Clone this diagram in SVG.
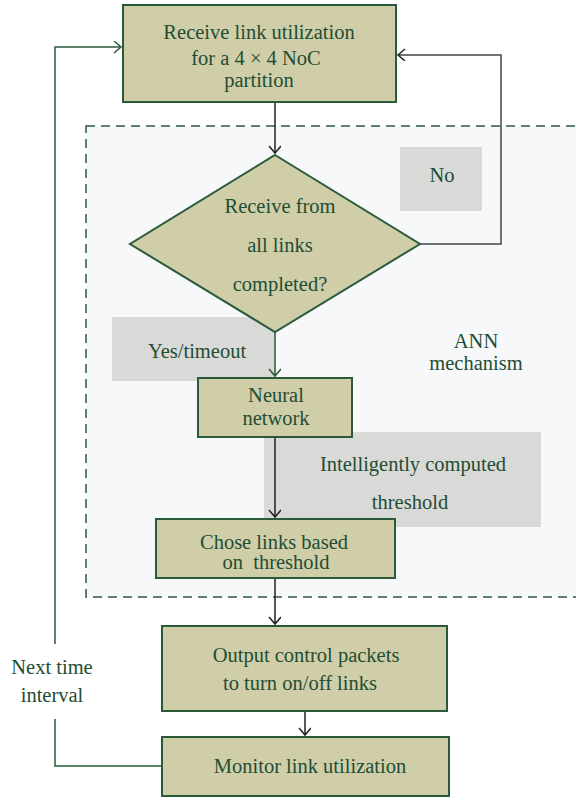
<svg xmlns="http://www.w3.org/2000/svg" width="576" height="798" viewBox="0 0 576 798">
<defs>
<style>
.box{fill:#cfcea9;stroke:#2b5a3b;stroke-width:2}
.lab{fill:#d9d9d7}
.t{font-family:"Liberation Serif",serif;font-size:20.5px;fill:#1f4d33;text-anchor:middle}
.c{fill:none;stroke:#222;stroke-width:1.5}
.g{stroke:#2b5a3b}
</style>
<marker id="ah" markerUnits="userSpaceOnUse" markerWidth="14" markerHeight="14" refX="8" refY="6" orient="auto">
<path d="M1,0 L8,6 L1,12" fill="none" stroke="#222" stroke-width="1.5"/>
</marker>
<marker id="ahg" markerUnits="userSpaceOnUse" markerWidth="14" markerHeight="14" refX="8" refY="6" orient="auto">
<path d="M1,0 L8,6 L1,12" fill="none" stroke="#2b5a3b" stroke-width="1.5"/>
</marker>
</defs>
<rect width="576" height="798" fill="#fff"/>
<g id="ann-region">
<rect x="86" y="126" width="500" height="471" fill="#f6f8fa" stroke="#2b5a3b" stroke-width="1.5" stroke-dasharray="9,6"/>
<text class="t" x="476" y="348">ANN</text>
<text class="t" x="476" y="370">mechanism</text>
</g>
<g id="label-no">
<rect class="lab" x="400" y="147" width="82" height="64"/>
<text class="t" x="442" y="182">No</text>
</g>
<g id="label-yes">
<rect class="lab" x="112" y="317" width="164" height="64"/>
<text class="t" x="197" y="358">Yes/timeout</text>
</g>
<g id="label-threshold">
<rect class="lab" x="264" y="432" width="277" height="95"/>
<text class="t" x="413" y="471">Intelligently computed</text>
<text class="t" x="410" y="509">threshold</text>
</g>
<g id="connectors">
<path class="c" d="M275,102 V153" marker-end="url(#ah)"/>
<path class="c" d="M420,244 H501 V55 H398" marker-end="url(#ah)" style="stroke:#444"/>
<path class="c g" d="M275,332 V376" marker-end="url(#ahg)"/>
<path class="c" d="M275,437 V517" marker-end="url(#ah)"/>
<path class="c" d="M275,578 V624" marker-end="url(#ah)"/>
<path class="c" d="M305,711 V735" marker-end="url(#ah)"/>
<path class="c g" d="M162,766 H55 V719"/>
<path class="c g" d="M55,644 V47 H121" marker-end="url(#ahg)"/>
</g>
<g id="node-receive">
<rect class="box" x="123" y="5" width="273" height="97"/>
<text class="t" x="259" y="39">Receive link utilization</text>
<text class="t" x="256" y="65">for a 4 × 4 NoC</text>
<text class="t" x="259" y="87">partition</text>
</g>
<g id="node-decision">
<polygon class="box" points="275,155 420,244 275,332 130,244" stroke-width="1.5"/>
<text class="t" x="280" y="213">Receive from</text>
<text class="t" x="280" y="252">all links</text>
<text class="t" x="280" y="291">completed?</text>
</g>
<g id="node-neural">
<rect class="box" x="198" y="378" width="154" height="59"/>
<text class="t" x="276" y="402">Neural</text>
<text class="t" x="276" y="425">network</text>
</g>
<g id="node-chose">
<rect class="box" x="156" y="519" width="239" height="59"/>
<text class="t" x="274" y="549">Chose links based</text>
<text class="t" x="276" y="569" xml:space="preserve">on  threshold</text>
</g>
<g id="node-output">
<rect class="box" x="162" y="626" width="285" height="85"/>
<text class="t" x="306" y="662">Output control packets</text>
<text class="t" x="300" y="690">to turn on/off links</text>
</g>
<g id="node-monitor">
<rect class="box" x="162" y="737" width="287" height="59"/>
<text class="t" x="310" y="773">Monitor link utilization</text>
</g>
<g id="label-next">
<text class="t" x="52" y="674">Next time</text>
<text class="t" x="52" y="702">interval</text>
</g>
</svg>
